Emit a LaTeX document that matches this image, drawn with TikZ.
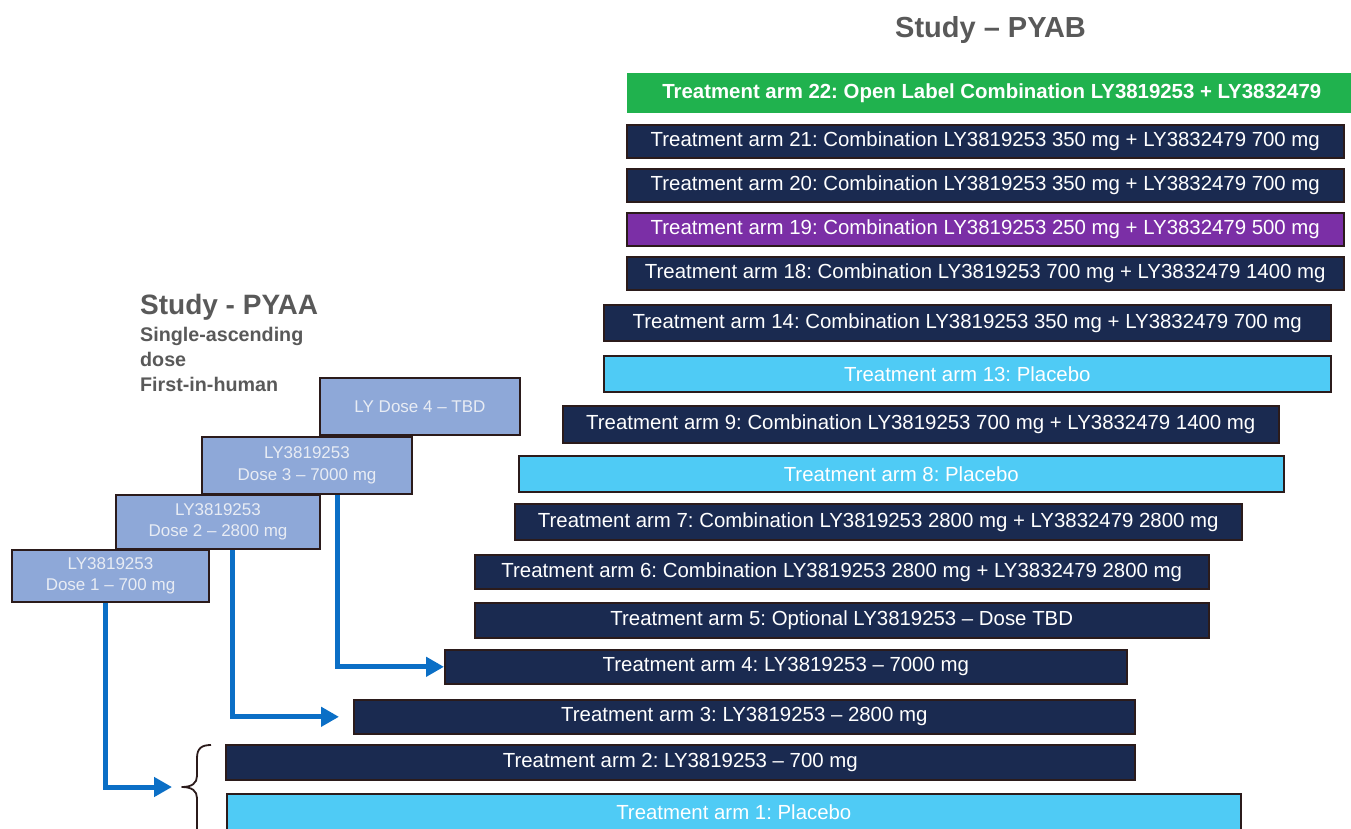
\documentclass[tikz,border=0pt]{standalone}
\usepackage{fontspec}
\setmainfont{Liberation Sans}
\usetikzlibrary{arrows.meta}
\definecolor{navy}{HTML}{1A2A50}
\definecolor{lblue}{HTML}{4FCBF5}
\definecolor{armgreen}{HTML}{20B24E}
\definecolor{armpurple}{HTML}{7B2FA6}
\definecolor{dosefill}{HTML}{8EA8D8}
\definecolor{dosetext}{HTML}{E8ECF4}
\definecolor{edgecol}{HTML}{2B1B1B}
\definecolor{arrblue}{HTML}{0B6FC6}
\definecolor{titlegray}{HTML}{595959}
\begin{document}
\frenchspacing
\begin{tikzpicture}[x=1pt,y=-1pt,
  armbar/.style={draw=edgecol, line width=1.6pt, anchor=north west, inner sep=0pt,
    text=white, font=\fontsize{20.4}{24}\selectfont},
  dosebox/.style={draw=edgecol, line width=2pt, fill=dosefill, anchor=north west, inner sep=0pt,
    text=dosetext, align=center, font=\fontsize{17}{21.5}\selectfont},
  flow/.style={draw=arrblue, line width=5pt, -{Triangle[length=18pt,width=19pt]}},
  bigtitle/.style={text=titlegray, font=\bfseries\fontsize{29}{34}\selectfont, anchor=base west, inner sep=0pt},
  subtitle/.style={text=titlegray, font=\bfseries\fontsize{19.7}{24.5}\selectfont, anchor=base west, inner sep=0pt}
]
\useasboundingbox[fill=white] (0,0) rectangle (1351,828);

% titles
\node[bigtitle] (tpyab) at (895,37) {Study -- PYAB};
\node[bigtitle, font=\bfseries\fontsize{28}{34}\selectfont] (tpyaa) at (140,314) {Study - PYAA};
\node[subtitle] (s1) at (140,341) {Single-ascending};
\node[subtitle] (s2) at (140,366) {dose};
\node[subtitle] (s3) at (140,391) {First-in-human};

% PYAB arms
\node[armbar, fill=armgreen, draw=none, minimum width=730pt, minimum height=40pt, font=\bfseries\fontsize{20.4}{24}\selectfont] (a22) at (626,72) {Treatment arm 22: Open Label Combination LY3819253 + LY3832479};
\node[armbar, fill=navy, minimum width=717pt, minimum height=33pt] (a21) at (626,124) {Treatment arm 21: Combination LY3819253 350 mg + LY3832479 700 mg};
\node[armbar, fill=navy, minimum width=717pt, minimum height=33pt] (a20) at (626,168) {Treatment arm 20: Combination LY3819253 350 mg + LY3832479 700 mg};
\node[armbar, fill=armpurple, minimum width=717pt, minimum height=33pt] (a19) at (626,212) {Treatment arm 19: Combination LY3819253 250 mg + LY3832479 500 mg};
\node[armbar, fill=navy, minimum width=717pt, minimum height=33pt] (a18) at (626,256) {Treatment arm 18: Combination LY3819253 700 mg + LY3832479 1400 mg};
\node[armbar, fill=navy, minimum width=727pt, minimum height=36pt] (a14) at (603,304) {Treatment arm 14: Combination LY3819253 350 mg + LY3832479 700 mg};
\node[armbar, fill=lblue, minimum width=727pt, minimum height=36pt] (a13) at (603,355) {Treatment arm 13: Placebo};
\node[armbar, fill=navy, minimum width=716pt, minimum height=37pt] (a9) at (562,405) {Treatment arm 9: Combination LY3819253 700 mg + LY3832479 1400 mg};
\node[armbar, fill=lblue, minimum width=765pt, minimum height=36pt] (a8) at (518,455) {Treatment arm 8: Placebo};
\node[armbar, fill=navy, minimum width=727pt, minimum height=36pt] (a7) at (514,503) {Treatment arm 7: Combination LY3819253 2800 mg + LY3832479 2800 mg};
\node[armbar, fill=navy, minimum width=734pt, minimum height=34pt] (a6) at (474,554) {Treatment arm 6: Combination LY3819253 2800 mg + LY3832479 2800 mg};
\node[armbar, fill=navy, minimum width=734pt, minimum height=35pt] (a5) at (474,602) {Treatment arm 5: Optional LY3819253 -- Dose TBD};
\node[armbar, fill=navy, minimum width=682pt, minimum height=34pt] (a4) at (444,649) {Treatment arm 4: LY3819253 -- 7000 mg};
\node[armbar, fill=navy, minimum width=781pt, minimum height=34pt] (a3) at (353,699) {Treatment arm 3: LY3819253 -- 2800 mg};
\node[armbar, fill=navy, minimum width=909pt, minimum height=35pt] (a2) at (225,744) {Treatment arm 2: LY3819253 -- 700 mg};
\node[armbar, fill=lblue, minimum width=1014pt, minimum height=36pt] (a1) at (226,793) {Treatment arm 1: Placebo};

% PYAA doses
\node[dosebox, minimum width=200pt, minimum height=57pt] (d4) at (319,377) {LY Dose 4 -- TBD};
\node[dosebox, minimum width=210pt, minimum height=57pt] (d3) at (201,436) {LY3819253\\Dose 3 -- 7000 mg};
\node[dosebox, minimum width=204pt, minimum height=54pt] (d2) at (115,494) {LY3819253\\Dose 2 -- 2800 mg};
\node[dosebox, minimum width=197pt, minimum height=52pt] (d1) at (11,549) {LY3819253\\Dose 1 -- 700 mg};

% brace (drawn by hand, its lower end runs off the page)
\coordinate (brtip) at (182,787);
\draw[edgecol, line width=1.8pt, line join=round]
  (211,745) .. controls (202,745) and (197,748) .. (197,758)
  -- (197,776) .. controls (197,783) and (192,787) .. (brtip)
  .. controls (192,787) and (197,791) .. (197,798)
  -- (197,840);

% arrows
\draw[flow] ([xshift=136pt]d3.south west) |- (a4.west);
\draw[flow] ([xshift=117pt]d2.south west) |- ([xshift=-14pt]a3.west);
\draw[flow] ([xshift=94pt]d1.south west) |- ([xshift=-10pt]brtip);
\end{tikzpicture}
\end{document}
